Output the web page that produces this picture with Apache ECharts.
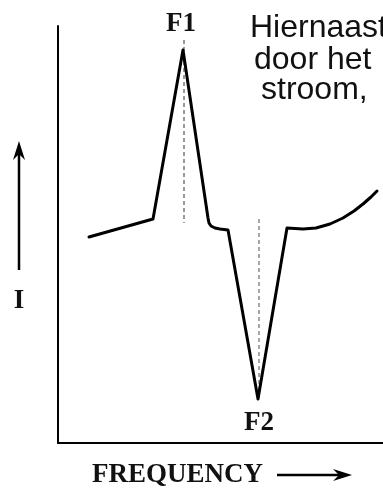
<!DOCTYPE html>
<html>
<head>
<meta charset="utf-8">
<script src="https://cdn.jsdelivr.net/npm/echarts@6/dist/echarts.min.js"></script>
<style>
  html,body{margin:0;padding:0;background:#fff;}
  #chart{width:383px;height:488px;}
</style>
</head>
<body>
<div id="chart"></div>
<script>
// resonance curve: current I against frequency (arbitrary units)
var freq    = [31, 95, 125, 127, 150, 151, 153, 157, 162, 170, 200, 202, 229, 231, 245, 258, 272, 285, 296, 305, 313, 319];
var current = [206, 224, 393, 393, 225, 220, 217, 215, 214, 213, 44, 44, 215, 214, 214, 215, 219, 225, 232, 239, 246, 252];
// dashed markers at F1 and F2
var f1Line = [[126, 403], [126, 220]];
var f2Line = [[201, 224], [201, 43]];
var sideText = ['Hiernaast', 'door het', 'stroom,'];

var serif = '"Liberation Serif", "DejaVu Serif", serif';
var sans = '"Liberation Sans", Arial, sans-serif';

let myChart = echarts.init(document.getElementById('chart'));

var curve = [];
for (var i = 0; i < freq.length; i++) {
  curve.push([freq[i], current[i]]);
}

var option = {
  backgroundColor: '#fff',
  animation: false,
  grid: { left: 58, right: 0, top: 26, bottom: 45 },
  xAxis: {
    type: 'value', min: 0, max: 325,
    axisLine: { show: true, lineStyle: { color: '#000', width: 2 } },
    axisTick: { show: false }, axisLabel: { show: false }, splitLine: { show: false }
  },
  yAxis: {
    type: 'value', min: 0, max: 417,
    axisLine: { show: true, lineStyle: { color: '#000', width: 2 } },
    axisTick: { show: false }, axisLabel: { show: false }, splitLine: { show: false }
  },
  series: [
    {
      type: 'line', data: f1Line, symbol: 'none',
      lineStyle: { color: '#777', width: 1.5, type: [4, 3] }
    },
    {
      type: 'line', data: f2Line, symbol: 'none',
      lineStyle: { color: '#888', width: 1.5, type: [4, 3] }
    },
    {
      type: 'line', data: curve, symbol: 'none',
      lineStyle: { color: '#000', width: 3, join: 'round', cap: 'round' }
    }
  ],
  graphic: [
    { type: 'text', x: 181, y: 24, style: { text: 'F1', font: 'bold 27px ' + serif, fill: '#111', align: 'center', verticalAlign: 'middle' } },
    { type: 'text', x: 259, y: 423, style: { text: 'F2', font: 'bold 27px ' + serif, fill: '#111', align: 'center', verticalAlign: 'middle' } },
    { type: 'text', x: 19, y: 301, style: { text: 'I', font: 'bold 27px ' + serif, fill: '#111', align: 'center', verticalAlign: 'middle' } },
    { type: 'text', x: 92, y: 475, style: { text: 'FREQUENCY', font: 'bold 27px ' + serif, fill: '#111', align: 'left', verticalAlign: 'middle' } },
    // up arrow beside I
    { type: 'line', shape: { x1: 19, y1: 270, x2: 19, y2: 150 }, style: { stroke: '#000', lineWidth: 2.5 } },
    { type: 'polygon', shape: { points: [[19, 141], [13, 160], [19, 154], [25, 160]] }, style: { fill: '#000' } },
    // right arrow after FREQUENCY
    { type: 'line', shape: { x1: 277, y1: 475, x2: 344, y2: 475 }, style: { stroke: '#000', lineWidth: 2.5 } },
    { type: 'polygon', shape: { points: [[352, 475], [333, 469], [339, 475], [333, 481]] }, style: { fill: '#000' } },
    { type: 'text', x: 250, y: 28, style: { text: sideText[0], font: '32px ' + sans, fill: '#111', verticalAlign: 'middle' } },
    { type: 'text', x: 254, y: 60, style: { text: sideText[1], font: '32px ' + sans, fill: '#111', verticalAlign: 'middle' } },
    { type: 'text', x: 261, y: 90, style: { text: sideText[2], font: '32px ' + sans, fill: '#111', verticalAlign: 'middle' } }
  ]
};
myChart.setOption(option);
</script>
</body>
</html>
